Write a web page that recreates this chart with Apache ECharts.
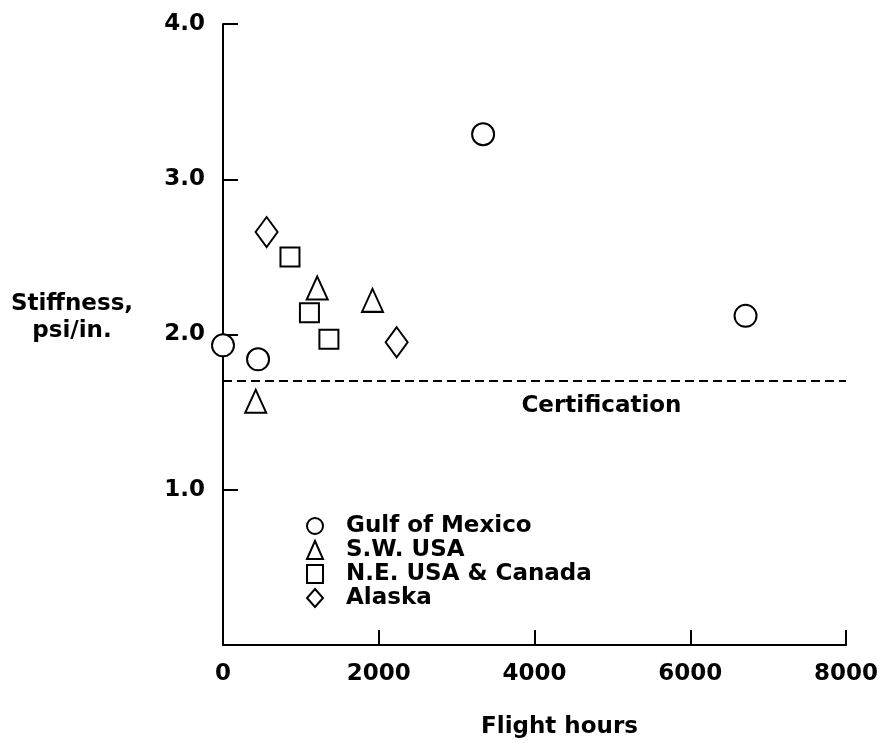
<!DOCTYPE html>
<html>
<head>
<meta charset="utf-8">
<script src="https://cdn.jsdelivr.net/npm/echarts@6/dist/echarts.min.js"></script>
<style>
html,body{margin:0;padding:0;background:#fff;}
#chart{width:882px;height:744px;}
</style>
</head>
<body>
<div id="chart"></div>
<script>
// ---- data ----
const seriesNames = ['Gulf of Mexico', 'S.W. USA', 'N.E. USA & Canada', 'Alaska'];
const gulfHours = [0, 450, 3340, 6710];
const gulfStiff = [1.93, 1.84, 3.29, 2.12];
const swHours = [420, 1210, 1920];
const swStiff = [1.57, 2.30, 2.22];
const neHours = [860, 1110, 1360];
const neStiff = [2.50, 2.14, 1.97];
const akHours = [560, 2230];
const akStiff = [2.66, 1.95];
const certValue = 1.7;
const certLabel = 'Certification';
const certLabelHours = 4860;
const xTicks = [0, 2000, 4000, 6000, 8000];
const yTicks = [1.0, 2.0, 3.0, 4.0];
const xName = 'Flight hours';
const yName = 'Stiffness,\npsi/in.';

const FONT = 'DejaVu Sans';
const pair = (xs, ys) => xs.map((x, i) => [x, ys[i]]);
const markStyle = { color: '#fff', borderColor: '#000', borderWidth: 2, opacity: 1 };

const chart = echarts.init(document.getElementById('chart'), null, { renderer: 'canvas' });
chart.setOption({
  backgroundColor: '#fff',
  animation: false,
  grid: { left: 223, top: 24, width: 623, height: 622, containLabel: false },
  xAxis: {
    type: 'value', min: 0, max: 8000, interval: 2000,
    name: xName, nameLocation: 'middle', nameGap: 71,
    nameTextStyle: { fontFamily: FONT, fontWeight: 'bold', fontSize: 23, color: '#000', padding: [0, 0, 0, 50] },
    axisLine: { show: true, lineStyle: { color: '#000', width: 2 } },
    axisTick: { show: true, inside: true, length: 15, lineStyle: { color: '#000', width: 2 } },
    axisLabel: { margin: 18, fontFamily: FONT, fontWeight: 'bold', fontSize: 23, color: '#000',
      formatter: v => xTicks.includes(v) ? String(v) : '' },
    splitLine: { show: false }
  },
  yAxis: {
    type: 'value', min: 0, max: 4, interval: 1,
    axisLine: { show: true, onZero: false, lineStyle: { color: '#000', width: 2 } },
    axisTick: { show: true, inside: true, length: 15, lineStyle: { color: '#000', width: 2 } },
    axisLabel: { margin: 18, fontFamily: FONT, fontWeight: 'bold', fontSize: 23, color: '#000',
      formatter: v => yTicks.includes(v) ? v.toFixed(1) : '' },
    splitLine: { show: false }
  },
  legend: {
    data: seriesNames,
    orient: 'vertical', left: 306, top: 514, padding: 0,
    itemWidth: 16, itemHeight: 18, itemGap: 0,
    itemStyle: { color: '#fff', borderColor: '#000', borderWidth: 2, opacity: 1 },
    textStyle: { fontFamily: FONT, fontWeight: 'bold', fontSize: 23, color: '#000', lineHeight: 24, padding: [0, 0, 0, 18] },
    selectedMode: false
  },
  graphic: [{
    type: 'text', x: 72, y: 291,
    style: { text: yName, fontFamily: FONT, fontWeight: 'bold', fontSize: 23, lineHeight: 27, fill: '#000', align: 'center', verticalAlign: 'top' }
  }],
  series: [
    { name: 'cert', type: 'line', data: [[xTicks[0], certValue], [xTicks[xTicks.length - 1], certValue]],
      symbol: 'none', z: 1, silent: true,
      lineStyle: { color: '#000', width: 2, type: [9, 5] } },
    { name: 'certLabel', type: 'scatter', data: [[certLabelHours, certValue]], symbolSize: 0, silent: true,
      itemStyle: { opacity: 1 },
      label: { show: true, position: 'bottom', distance: 13, formatter: certLabel,
        fontFamily: FONT, fontWeight: 'bold', fontSize: 23, color: '#000' } },
    { name: seriesNames[0], type: 'scatter', symbol: 'circle', symbolSize: 22, data: pair(gulfHours, gulfStiff), itemStyle: markStyle, z: 5 },
    { name: seriesNames[1], type: 'scatter', symbol: 'triangle', symbolSize: [21, 23], data: pair(swHours, swStiff), itemStyle: markStyle, z: 5 },
    { name: seriesNames[2], type: 'scatter', symbol: 'rect', symbolSize: 19, data: pair(neHours, neStiff), itemStyle: markStyle, z: 5 },
    { name: seriesNames[3], type: 'scatter', symbol: 'diamond', symbolSize: [22, 30], data: pair(akHours, akStiff), itemStyle: markStyle, z: 5 }
  ]
});
</script>
</body>
</html>
